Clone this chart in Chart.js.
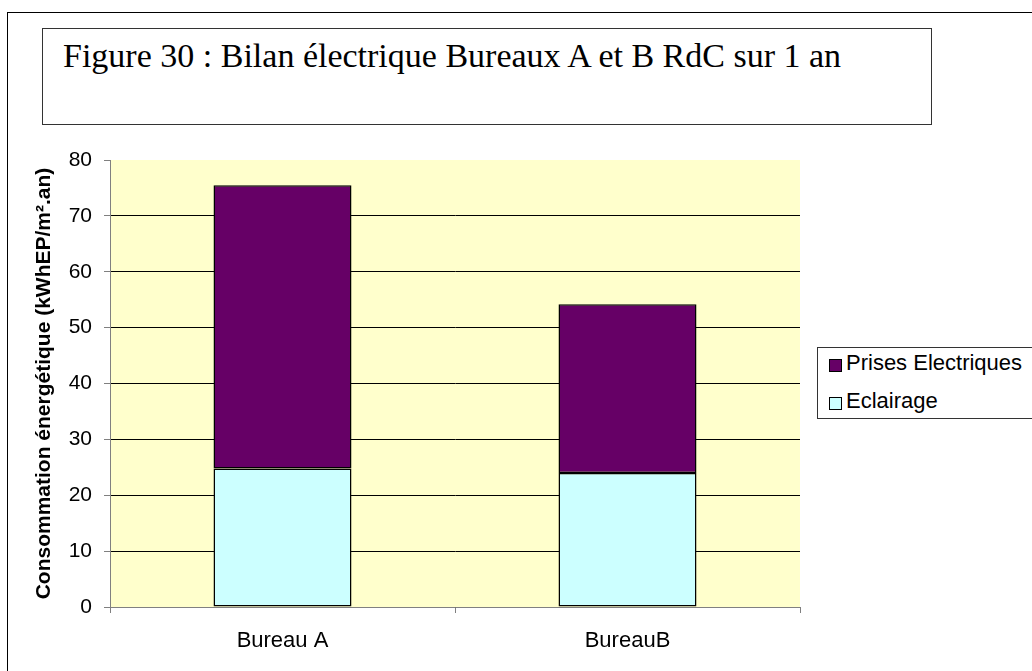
<!DOCTYPE html>
<html>
<head>
<meta charset="utf-8">
<script src="https://cdn.jsdelivr.net/npm/chart.js@4.4.1/dist/chart.umd.min.js"></script>
<style>
  html, body { margin: 0; width: 1032px; height: 671px; overflow: hidden; background: #fff; }
  #frame { position: absolute; left: 7px; top: 12px; width: 1100px; height: 800px; border: 1px solid #000; }
  #titleBox { position: absolute; left: 42px; top: 28px; width: 890px; height: 97px; border: 1.5px solid #333; box-sizing: border-box; }
  #titleBox span { position: absolute; left: 20px; top: 10px; font: 34px "Liberation Serif", "Times New Roman", serif; line-height: 34px; white-space: nowrap; color: #000; }
  #wrap { position: absolute; left: 0; top: 0; width: 1032px; height: 671px; }
  #legend { position: absolute; left: 817px; top: 347px; width: 215px; height: 72px; border: 1px solid #333; border-right: none; box-sizing: border-box; background: #fff; }
  .item { position: absolute; left: 11px; height: 24px; font: 22px "Liberation Sans", Arial, sans-serif; line-height: 24px; white-space: nowrap; }
  .item i { position: absolute; left: 0; top: 8px; width: 13px; height: 13px; border: 1px solid #000; box-sizing: border-box; }
  .item b { position: absolute; left: 17px; top: 0; font-weight: normal; }
</style>
</head>
<body>
<div id="frame"></div>
<div id="titleBox"><span>Figure 30 : Bilan électrique Bureaux A et B RdC sur 1 an</span></div>
<div id="wrap"><canvas id="chart"></canvas></div>
<div id="legend"></div>
<script>
// data
const categories = ['Bureau A', 'BureauB'];
const eclairage = [24.8, 24.0];
const prisesElectriques = [50.7, 30.2];
const seriesNames = ['Eclairage', 'Prises Electriques'];
const seriesColors = ['#CCFFFF', '#660066'];
const yMin = 0, yMax = 80, yStep = 10;
const yTitle = 'Consommation énergétique (kWhEP/m².an)';

const sans = '"Liberation Sans", Arial, sans-serif';

// yellow plot background
const plotBg = {
    id: 'plotBg',
    beforeDraw(chart) {
        const { ctx, chartArea: a } = chart;
        ctx.save();
        ctx.fillStyle = '#FFFFCC';
        ctx.fillRect(a.left, a.top, a.right - a.left, a.bottom - a.top);
        ctx.restore();
    }
};

const chart = new Chart(document.getElementById('chart'), {
    type: 'bar',
    data: {
        labels: categories,
        datasets: [eclairage, prisesElectriques].map((d, i) => ({
            label: seriesNames[i],
            data: d,
            backgroundColor: seriesColors[i],
            borderColor: '#000',
            borderWidth: 1.5,
            borderSkipped: false,
            barPercentage: 0.4,
            categoryPercentage: 1.0
        }))
    },
    options: {
        responsive: true,
        maintainAspectRatio: false,
        animation: false,
        layout: { padding: { left: 7, top: 160, right: 232, bottom: 0 } },
        plugins: {
            legend: { display: false },
            tooltip: { enabled: false }
        },
        scales: {
            x: {
                stacked: true,
                afterFit: s => { s.height = 64; },
                grid: { drawOnChartArea: false, drawTicks: true, tickLength: 6, color: '#808080', offset: true },
                border: { color: '#808080', width: 1 },
                ticks: { color: '#000', font: { family: sans, size: 22 }, padding: 15, maxRotation: 0 }
            },
            y: {
                stacked: true,
                min: yMin,
                max: yMax,
                afterFit: s => { s.width = 103; },
                grid: {
                    color: c => c.tick.value === yMax ? 'rgba(0,0,0,0)' : '#000',
                    tickColor: '#808080',
                    tickLength: 6,
                    lineWidth: 1
                },
                border: { color: '#808080', width: 1 },
                ticks: { stepSize: yStep, color: '#000', font: { family: sans, size: 21 }, padding: 12 },
                title: {
                    display: true,
                    text: yTitle,
                    color: '#000',
                    font: { family: sans, size: 21, weight: 'bold' },
                    padding: { top: 25, bottom: 0 }
                }
            }
        }
    },
    plugins: [plotBg]
});

// legend built from the datasets, reversed like the original
const legend = document.getElementById('legend');
chart.data.datasets.slice().reverse().forEach((ds, i) => {
    const row = document.createElement('div');
    row.className = 'item';
    row.style.top = (3 + i * 38) + 'px';
    row.innerHTML = `<i style="background:${ds.backgroundColor}"></i><b>${ds.label}</b>`;
    legend.appendChild(row);
});
</script>
</body>
</html>
